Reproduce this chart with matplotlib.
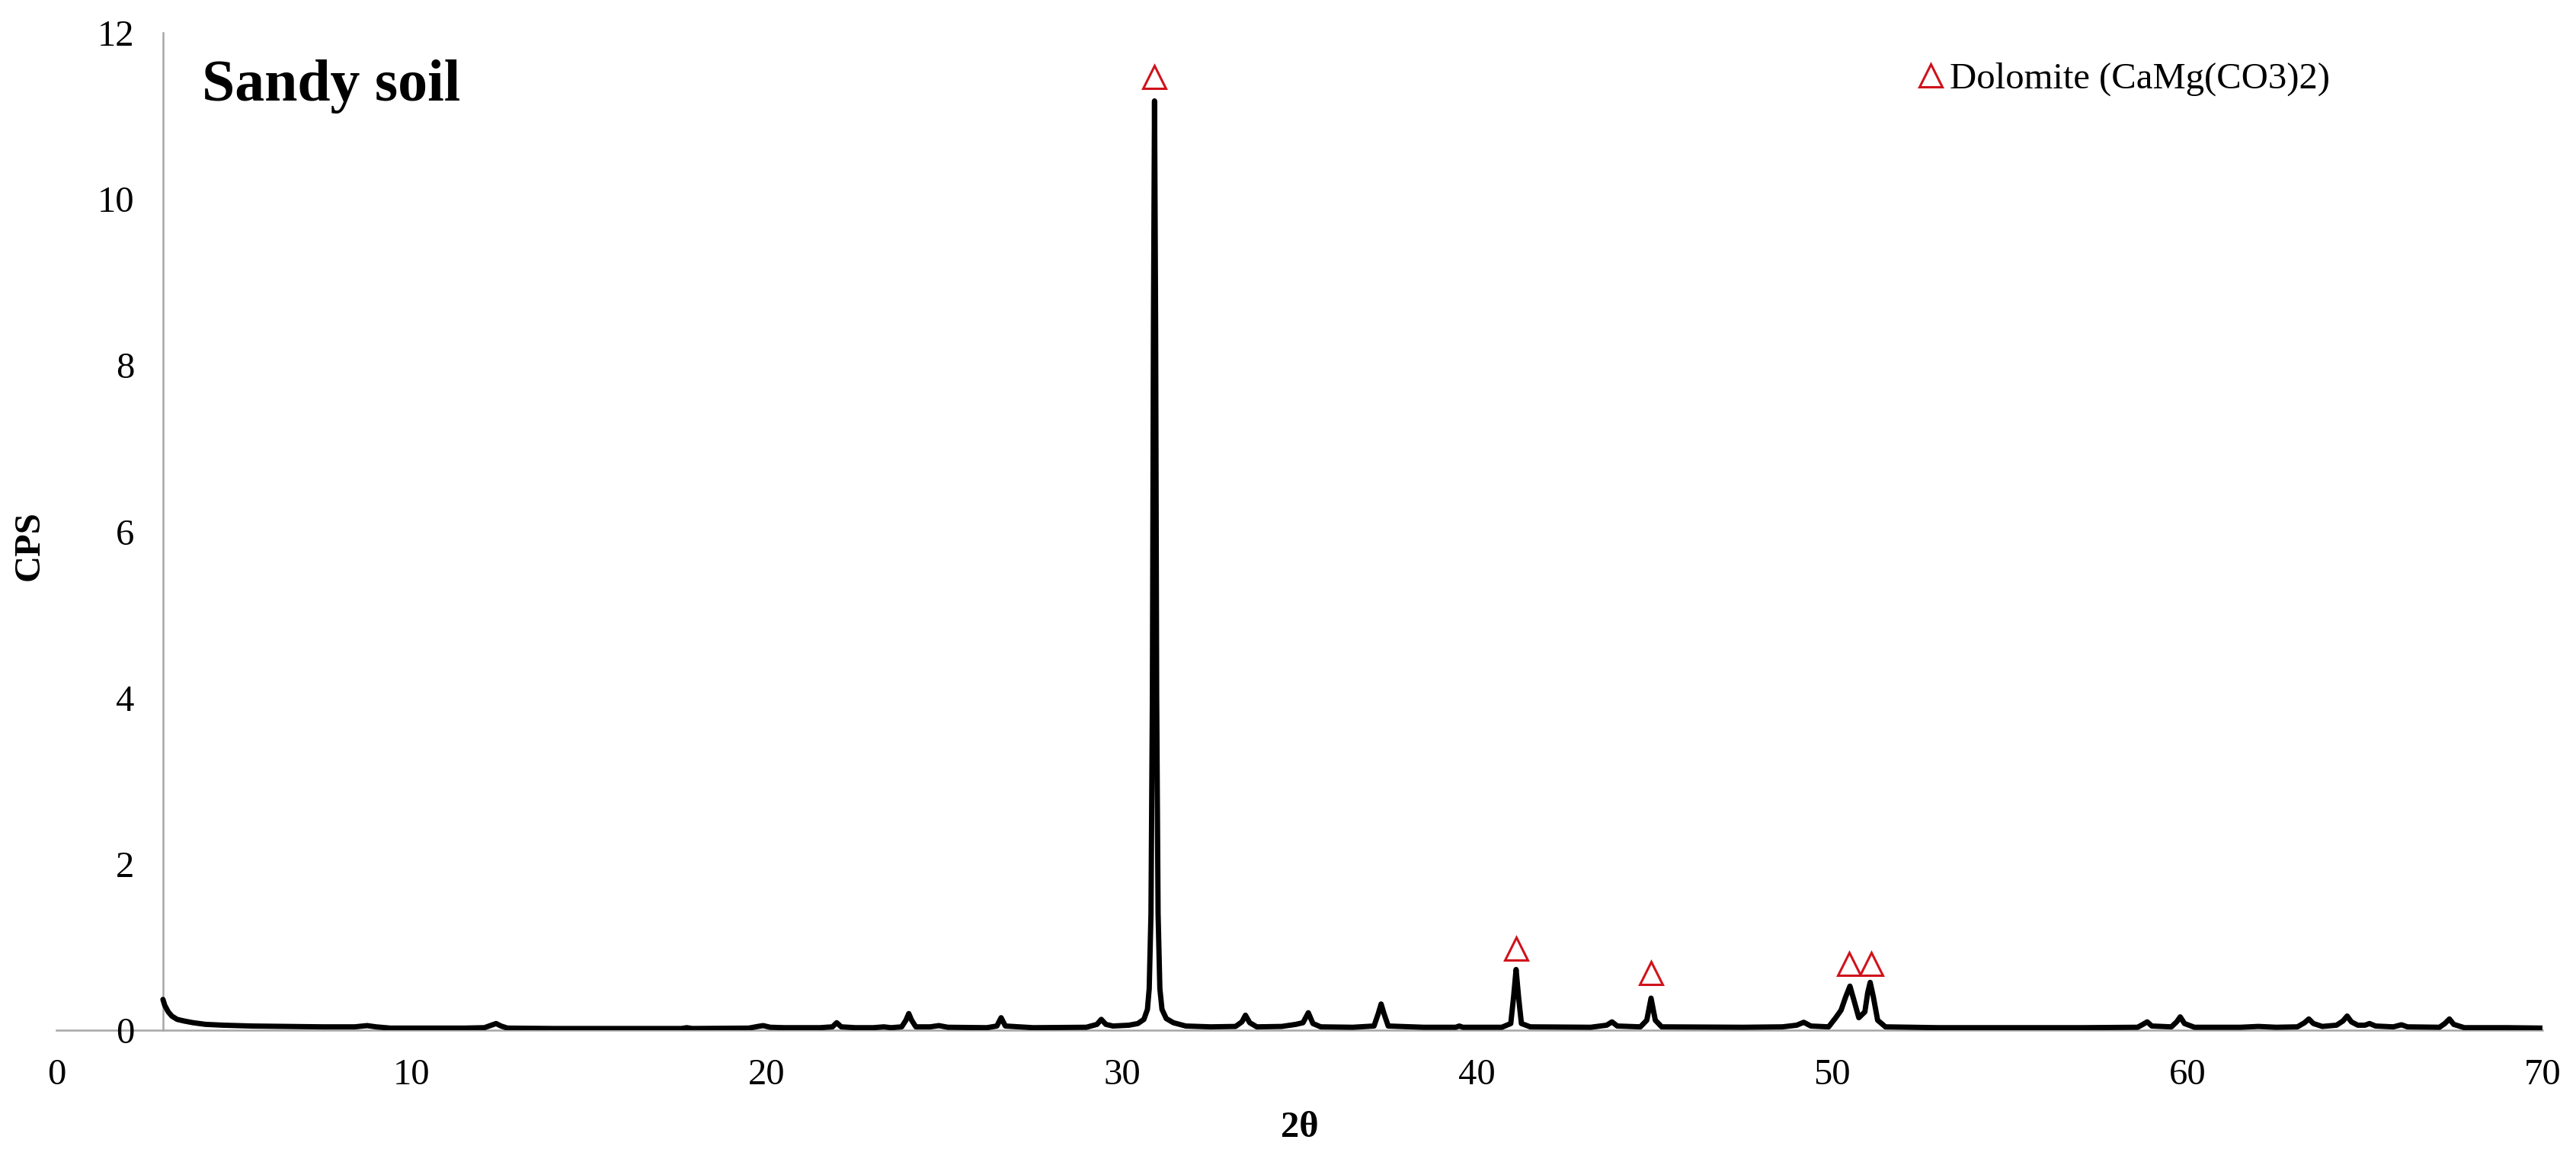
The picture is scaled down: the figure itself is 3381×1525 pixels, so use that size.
import matplotlib
matplotlib.use("Agg")
import matplotlib.pyplot as plt
from matplotlib.lines import Line2D

# ---------------- data ----------------
two_theta = [
    3.00, 3.05, 3.15, 3.25, 3.40, 3.60, 3.85, 4.20, 4.70, 5.50, 6.50, 7.50,
    8.40, 8.75, 9.00, 9.40, 10.5, 11.5, 12.05, 12.25, 12.38, 12.52, 12.70,
    14.0, 16.0, 17.6, 17.75, 17.9, 19.5, 19.75, 19.9, 20.1, 20.5, 21.5,
    21.85, 21.97, 22.1, 22.5, 23.0, 23.3, 23.5, 23.8, 23.92, 24.0, 24.08,
    24.2, 24.6, 24.85, 25.1, 26.2, 26.48, 26.6, 26.72, 27.5, 29.0, 29.3,
    29.42, 29.55, 29.75, 30.2, 30.45, 30.62, 30.72, 30.77, 30.82, 30.86,
    30.89, 30.92, 30.95, 30.98, 31.02, 31.07, 31.13, 31.25, 31.45, 31.8,
    32.5, 33.2, 33.38, 33.48, 33.6, 33.8, 34.5, 34.9, 35.1, 35.25, 35.38,
    35.6, 36.5, 37.1, 37.22, 37.3, 37.38, 37.5, 38.5, 39.4, 39.5, 39.6,
    40.7, 40.95, 41.03, 41.1, 41.17, 41.25, 41.5, 43.2, 43.65, 43.8, 43.95,
    44.6, 44.78, 44.9, 45.02, 45.2, 47.5, 48.6, 49.0, 49.2, 49.4, 49.9,
    50.1, 50.25, 50.38, 50.5, 50.62, 50.75, 50.92, 51.0, 51.07, 51.16,
    51.28, 51.5, 53.0, 55.0, 57.0, 58.6, 58.75, 58.87, 59.0, 59.55, 59.7,
    59.8, 59.92, 60.2, 61.5, 62.0, 62.5, 63.1, 63.3, 63.42, 63.55, 63.8,
    64.2, 64.38, 64.5, 64.62, 64.8, 65.0, 65.13, 65.3, 65.8, 66.03, 66.2,
    67.1, 67.25, 67.38, 67.5, 67.8, 69.0, 70.0,
]
cps = [
    0.37, 0.30, 0.22, 0.17, 0.13, 0.11, 0.09, 0.07, 0.06, 0.05, 0.045, 0.04,
    0.04, 0.055, 0.04, 0.025, 0.025, 0.025, 0.03, 0.06, 0.08, 0.05, 0.025,
    0.02, 0.02, 0.02, 0.03, 0.02, 0.025, 0.045, 0.055, 0.035, 0.03, 0.03,
    0.04, 0.09, 0.04, 0.03, 0.03, 0.04, 0.03, 0.04, 0.12, 0.20, 0.12,
    0.04, 0.04, 0.055, 0.035, 0.03, 0.05, 0.15, 0.05, 0.03, 0.035, 0.07,
    0.13, 0.07, 0.05, 0.06, 0.08, 0.13, 0.25, 0.50, 1.40, 4.00,
    8.50, 11.18, 8.50, 4.00, 1.40, 0.50, 0.25, 0.14, 0.09, 0.05,
    0.04, 0.045, 0.10, 0.18, 0.09, 0.04, 0.045, 0.07, 0.09, 0.21, 0.08,
    0.04, 0.035, 0.05, 0.20, 0.315, 0.20, 0.05, 0.035, 0.035, 0.05, 0.035,
    0.035, 0.08, 0.40, 0.73, 0.40, 0.08, 0.04, 0.035, 0.06, 0.10, 0.05,
    0.04, 0.12, 0.385, 0.12, 0.04, 0.035, 0.04, 0.06, 0.095, 0.05, 0.04,
    0.15, 0.24, 0.40, 0.53, 0.35, 0.15, 0.22, 0.45, 0.575, 0.40,
    0.12, 0.04, 0.03, 0.03, 0.03, 0.035, 0.07, 0.10, 0.05, 0.04, 0.10,
    0.16, 0.08, 0.035, 0.035, 0.045, 0.035, 0.04, 0.09, 0.135, 0.08, 0.045,
    0.06, 0.11, 0.17, 0.10, 0.06, 0.06, 0.08, 0.05, 0.04, 0.065, 0.04,
    0.035, 0.08, 0.135, 0.07, 0.03, 0.03, 0.025,
]

# Dolomite marker positions (triangles above peaks)
dolomite_x = [30.92, 41.10, 44.90, 50.48, 51.10]
dolomite_y = [11.47, 0.98, 0.69, 0.80, 0.80]

x_ticks = [0, 10, 20, 30, 40, 50, 60, 70]
y_ticks = [0, 2, 4, 6, 8, 10, 12]

title_text = "Sandy soil"
legend_label = "Dolomite (CaMg(CO3)2)"
x_label = "2θ"
y_label = "CPS"

# ---------------- figure ----------------
plt.rcParams['font.family'] = ['Liberation Serif', 'DejaVu Serif']
DPI = 200
fig = plt.figure(figsize=(3381 / DPI, 1525 / DPI), dpi=DPI)
ax = fig.add_axes([0.02189, 0.11344, 0.98699 - 0.02189, 0.9718 - 0.11344])

red = '#d0121b'
axis_grey = '#a6a6a6'

ax.plot(two_theta, cps, color='black', lw=2.5,
        solid_joinstyle='round', solid_capstyle='round', zorder=3)
ax.plot(dolomite_x, dolomite_y, linestyle='none', marker='^',
        markersize=10.5, markerfacecolor='none', markeredgecolor=red,
        markeredgewidth=1.1, zorder=4)

ax.set_xlim(0, 70)
ax.set_ylim(0, 12)
ax.set_xticks(x_ticks)
ax.set_yticks(y_ticks)
ax.set_xticklabels([str(v) for v in x_ticks])
ax.set_yticklabels([str(v) for v in y_ticks])

for s in ['top', 'right']:
    ax.spines[s].set_visible(False)
ax.spines['left'].set_position(('data', 3))
ax.spines['left'].set_color(axis_grey)
ax.spines['left'].set_linewidth(0.9)
ax.spines['bottom'].set_color(axis_grey)
ax.spines['bottom'].set_linewidth(0.9)
ax.spines['left'].set_zorder(1)
ax.spines['bottom'].set_zorder(1)

ax.tick_params(axis='both', length=0, labelsize=17.5, colors='black')
ax.tick_params(axis='x', pad=13.3)
ax.tick_params(axis='y', pad=13.5)

ax.set_xlabel(x_label, fontsize=17.5, fontweight='bold')
ax.set_ylabel(y_label, fontsize=17.5, fontweight='bold')
ax.xaxis.set_label_coords(0.5, -0.081)
ax.yaxis.set_label_coords(-0.004, 0.486)

ax.text(4.1, 11.18, title_text, fontsize=28, fontweight='bold',
        ha='left', va='baseline')

handle = Line2D([], [], linestyle='none', marker='^', markersize=10.5,
                markerfacecolor='none', markeredgecolor=red,
                markeredgewidth=1.1)
ax.legend([handle], [legend_label], loc='center left',
          bbox_to_anchor=(52.40, 11.44), bbox_transform=ax.transData,
          frameon=False, fontsize=17.5, handlelength=0.7,
          handletextpad=0.17, borderpad=0, borderaxespad=0)

fig.savefig('out.png', dpi=DPI, facecolor='white')
